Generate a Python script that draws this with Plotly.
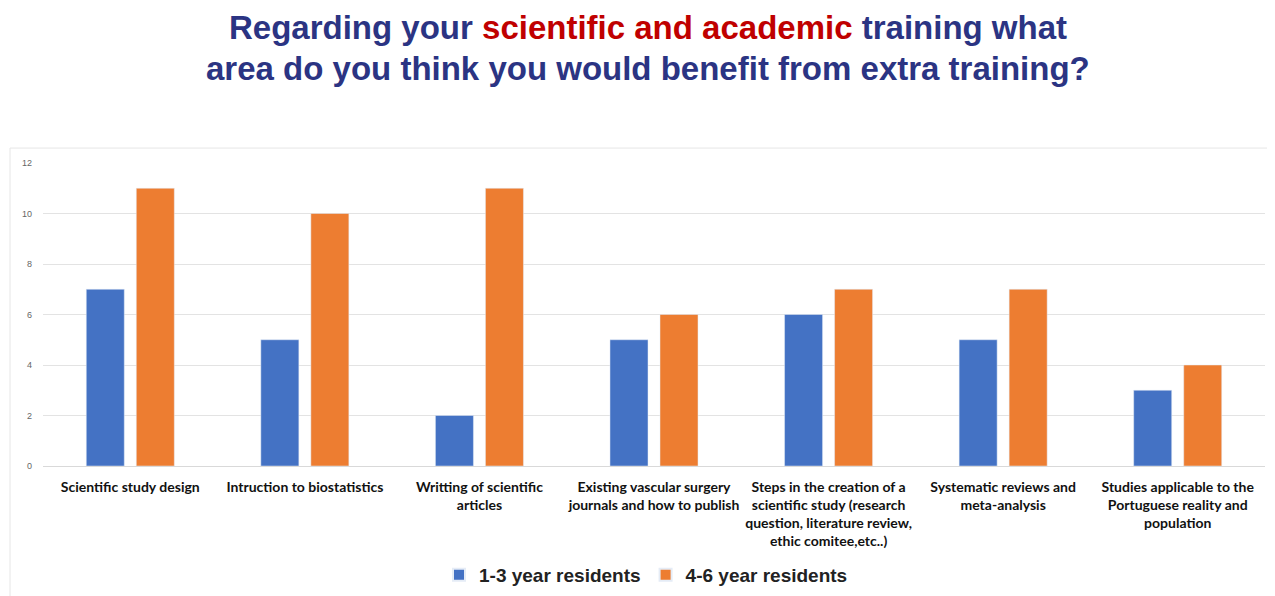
import plotly.graph_objects as go

categories = [
    "Scientific study design",
    "Intruction to biostatistics",
    "Writting of scientific<br>articles",
    "Existing vascular surgery<br>journals and how to publish",
    "Steps in the creation of a<br>scientific study (research<br>question, literature review,<br>ethic comitee,etc..)",
    "Systematic reviews and<br>meta-analysis",
    "Studies applicable to the<br>Portuguese reality and<br>population",
]
residents_1_3 = [7, 5, 2, 5, 6, 5, 3]
residents_4_6 = [11, 10, 11, 6, 7, 7, 4]
y_ticks = [0, 2, 4, 6, 8, 10, 12]

BLUE = "#4472C4"
ORANGE = "#ED7D31"
NAVY = "#2B3483"
RED = "#C00000"

fig = go.Figure()
fig.add_trace(go.Bar(x=categories, y=residents_1_3, name="1-3 year residents", marker_color=BLUE))
fig.add_trace(go.Bar(x=categories, y=residents_4_6, name="4-6 year residents", marker_color=ORANGE))

title_line1 = (
    f"<b><span style='color:{NAVY}'>Regarding your </span>"
    f"<span style='color:{RED}'>scientific and academic</span>"
    f"<span style='color:{NAVY}'> training what</span></b>"
)
title_line2 = f"<b><span style='color:{NAVY}'>area do you think you would benefit from extra training?</span></b>"

L, R, T, B = 35, 18, 155, 137
PH = 596 - T - B
PW = 1275 - L - R
OFF = 8  # page offset observed


def py(pix):
    """paper y for an image pixel row"""
    return 1.0 - (pix - OFF - T) / PH


title_font = dict(family="Liberation Sans, Arial", size=33)

fig.update_layout(
    width=1275, height=596,
    paper_bgcolor="white", plot_bgcolor="white",
    margin=dict(l=L, r=R, t=T, b=B),
    barmode="group", bargap=0.427, bargroupgap=0.24,
    showlegend=True,
    legend=dict(orientation="h", x=0.5 - 8 / PW, xanchor="center", y=py(575), yanchor="middle",
                font=dict(family="Liberation Sans", size=19, color="#222222", weight="bold"),
                itemsizing="constant", traceorder="normal"),
    annotations=[
        dict(text=title_line1, x=0.5 - 6 / PW, xref="paper", y=py(27), yref="paper",
             yanchor="middle", showarrow=False, align="center", font=title_font),
        dict(text=title_line2, x=0.5 - 6 / PW, xref="paper", y=py(68), yref="paper",
             yanchor="middle", showarrow=False, align="center", font=title_font),
    ],
    font=dict(family="Lato, sans-serif"),
)

fig.update_xaxes(
    showline=True, linecolor="#D9D9D9", linewidth=1,
    tickfont=dict(family="Lato, sans-serif", size=14, color="#111111", weight="bold"),
    tickangle=0, ticks="", ticklabelstandoff=8,
)
fig.update_yaxes(
    range=[0, 12], tickvals=y_ticks, showgrid=True, gridcolor="#E3E3E3", gridwidth=1,
    zeroline=False, showline=False,
    tickfont=dict(family="Liberation Sans", size=9, color="#666666"),
    ticklabelstandoff=10,
)

fig.add_shape(type="rect", xref="paper", yref="paper",
              x0=-(L - 2) / PW, x1=1 + (R - 6) / PW, y0=-(B - 6) / PH, y1=1 + 15 / PH,
              line=dict(color="#E6E6E6", width=1), fillcolor="rgba(0,0,0,0)", layer="below")

fig.write_html("out.html")
